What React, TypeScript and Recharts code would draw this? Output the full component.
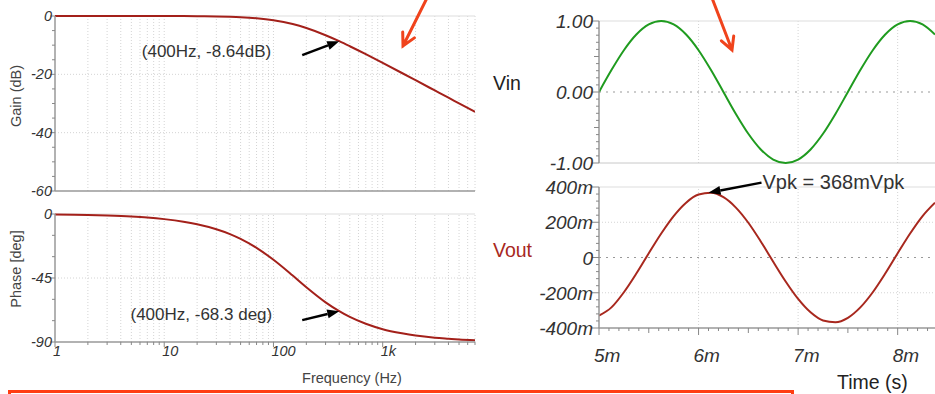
import { LineChart, Line, XAxis, YAxis, ReferenceLine, ReferenceDot } from "recharts";

// Bode data
const freqHz = [1, 2, 3, 5, 7, 10, 15, 20, 30, 40, 50, 70, 100, 150, 200, 300, 400, 500, 700, 1000, 1500, 2000, 3000, 4000, 5000, 7000];
const gainDb = [0, 0, 0, -0.01, -0.01, -0.02, -0.04, -0.07, -0.15, -0.27, -0.41, -0.77, -1.45, -2.76, -4.12, -6.59, -8.64, -10.37, -13.09, -16.08, -19.54, -22.02, -25.53, -28.02, -29.96, -32.88];
const phaseDeg = [-0.4, -0.7, -1.1, -1.8, -2.5, -3.6, -5.4, -7.2, -10.7, -14.1, -17.5, -23.8, -32.2, -43.3, -51.5, -62.1, -68.3, -72.4, -77.2, -81.0, -83.9, -85.5, -87.0, -87.7, -88.2, -88.7];

// transient data (ms, V)
const timeMs = [5, 5.125, 5.25, 5.375, 5.5, 5.625, 5.75, 5.875, 6, 6.125, 6.25, 6.375, 6.5, 6.625, 6.75, 6.875, 7, 7.125, 7.25, 7.375, 7.5, 7.625, 7.75, 7.875, 8, 8.125, 8.25, 8.375];
const vinV = [0, 0.309, 0.588, 0.809, 0.951, 1, 0.951, 0.809, 0.588, 0.309, 0, -0.309, -0.588, -0.809, -0.951, -1, -0.951, -0.809, -0.588, -0.309, 0, 0.309, 0.588, 0.809, 0.951, 1, 0.951, 0.809];
const voutV = [-0.33, -0.283, -0.197, -0.091, 0.024, 0.136, 0.235, 0.311, 0.357, 0.367, 0.342, 0.283, 0.197, 0.091, -0.024, -0.136, -0.235, -0.311, -0.357, -0.367, -0.342, -0.283, -0.197, -0.091, 0.024, 0.136, 0.235, 0.311];

// ticks
const freqTicks = [1, 2, 3, 4, 5, 6, 7, 8, 9, 10, 20, 30, 40, 50, 60, 70, 80, 90, 100, 200, 300, 400, 500, 600, 700, 800, 900, 1000, 2000, 3000, 4000, 5000, 6000, 7000];
const freqLabels: Record<number, string> = { 1: "1", 10: "10", 100: "100", 1000: "1k" };
const gainTicks = [0, -5, -10, -15, -20, -25, -30, -35, -40, -45, -50, -55, -60];
const gainLabels = [0, -20, -40, -60];
const phaseTicks = [0, -15, -30, -45, -60, -75, -90];
const phaseLabels = [0, -45, -90];
const vinTicks = Array.from({ length: 21 }, (_, i) => Math.round((1 - i * 0.1) * 10) / 10);
const vinLabels: Record<string, string> = { "1": "1.00", "0": "0.00", "-1": "-1.00" };
const voutTicks = Array.from({ length: 21 }, (_, i) => Math.round((0.4 - i * 0.04) * 100) / 100);
const voutLabels: Record<string, string> = { "0.4": "400m", "0.2": "200m", "0": "0", "-0.2": "-200m", "-0.4": "-400m" };
const timeTicks = Array.from({ length: 34 }, (_, i) => Math.round((5 + i * 0.1) * 10) / 10);
const timeLabels: Record<string, string> = { "5": "5m", "6": "6m", "7": "7m", "8": "8m" };

const bodeData = freqHz.map((f, i) => ({ f, gain: gainDb[i], phase: phaseDeg[i] }));
const tranData = timeMs.map((t, i) => ({ t, vin: vinV[i], vout: voutV[i] }));

const font = "'Liberation Sans', Arial, sans-serif";
const axisGray = "#999";
const tickGray = "#888";
const textCol = "#333";
const bodeRed = "#a3201a";
const voutRed = "#a8281e";
const vinGreen = "#1f9b1f";
const arrowRed = "#f0431c";

const leftYTick = (labels: number[], fontSize: number, dy: number, gap: number) => (p: any) => {
  const v = p.payload.value;
  const major = labels.includes(v);
  return (
    <g>
      <line x1={p.x} x2={p.x - (major ? 5 : 3)} y1={p.y} y2={p.y} stroke={tickGray} />
      {major && (
        <text x={p.x - gap} y={p.y + dy} textAnchor="end" fontSize={fontSize} fontStyle="italic" fontFamily={font} fill={textCol}>
          {v}
        </text>
      )}
    </g>
  );
};

const rightYTick = (labels: Record<string, string>, mid: (v: number) => boolean) => (p: any) => {
  const v = p.payload.value;
  const lab = labels[String(v)];
  const len = lab ? 7 : mid(v) ? 5 : 3;
  return (
    <g>
      <line x1={p.x} x2={p.x - len} y1={p.y} y2={p.y} stroke={tickGray} />
      {lab && (
        <text x={p.x - 6} y={p.y + 7} textAnchor="end" fontSize={19} fontStyle="italic" fontFamily={font} fill={textCol}>
          {lab}
        </text>
      )}
    </g>
  );
};

const FreqTick = (p: any) => {
  const v = p.payload.value;
  const lab = freqLabels[v];
  return (
    <g>
      <line x1={p.x} x2={p.x} y1={p.y} y2={p.y + (lab ? 5 : 3)} stroke={tickGray} />
      {lab && (
        <text x={p.x - 2} y={p.y + 14} fontSize={14.5} fontStyle="italic" fontFamily={font} fill={textCol}>
          {lab}
        </text>
      )}
    </g>
  );
};

const TimeTick = (p: any) => {
  const v = p.payload.value;
  const lab = timeLabels[String(v)];
  const mid = Math.abs(v * 2 - Math.round(v * 2)) < 1e-6;
  return (
    <g>
      <line x1={p.x} x2={p.x} y1={p.y} y2={p.y + (lab ? 7 : mid ? 5 : 3)} stroke={tickGray} />
      {lab && (
        <text x={p.x - 5} y={p.y + 34} fontSize={19} fontStyle="italic" fontFamily={font} fill={textCol}>
          {lab}
        </text>
      )}
    </g>
  );
};

// black callout arrow pointing at a data point
const callout = (tail: [number, number], text: string, textAt: [number, number], anchor: "start" | "end", fontSize: number) => (p: any) => {
  const { cx, cy } = p;
  const tx = cx + tail[0];
  const ty = cy + tail[1];
  const len = Math.hypot(tail[0], tail[1]);
  const ux = -tail[0] / len;
  const uy = -tail[1] / len;
  const L = 12;
  const w = 4.5;
  const bx = cx - ux * L;
  const by = cy - uy * L;
  return (
    <g>
      <line x1={tx} y1={ty} x2={bx} y2={by} stroke="#000" strokeWidth={2.5} />
      <polygon points={`${cx},${cy} ${bx - uy * w},${by + ux * w} ${bx + uy * w},${by - ux * w}`} fill="#000" />
      <text x={cx + textAt[0]} y={cy + textAt[1]} textAnchor={anchor} fontSize={fontSize} fontFamily={font} fill={textCol}>
        {text}
      </text>
    </g>
  );
};

const dotted = { stroke: "#d4d4d4", strokeDasharray: "1 2" };

export default function App() {
  return (
    <div style={{ position: "fixed", left: 0, top: 0, width: 935, height: 394, overflow: "hidden", background: "#fff" }}>
      {/* Gain */}
      <div style={{ position: "absolute", left: 0, top: 0 }}>
        <LineChart width={480} height={206} data={bodeData} margin={{ top: 16, right: 5, bottom: 15, left: 0 }}>
          <XAxis dataKey="f" type="number" scale="log" domain={[1, 7000]} allowDataOverflow hide />
          <YAxis
            type="number"
            domain={[-60, 0]}
            ticks={gainTicks}
            interval={0}
            width={55}
            tickSize={0}
            tickMargin={0}
            tickLine={false}
            axisLine={{ stroke: axisGray, strokeWidth: 1.5 }}
            tick={leftYTick(gainLabels, 14.5, 5, 3)}
          />
          {freqTicks.slice(1).map((f) => (
            <ReferenceLine key={f} x={f} {...dotted} />
          ))}
          <ReferenceLine y={-20} {...dotted} />
          <ReferenceLine y={-40} {...dotted} />
          <ReferenceLine y={0} stroke="#ddd" />
          <ReferenceLine y={-60} stroke={axisGray} strokeWidth={1.5} />
          <Line dataKey="gain" type="monotone" stroke={bodeRed} strokeWidth={2} dot={false} isAnimationActive={false} />
          <ReferenceDot x={400} y={-8.64} r={0} shape={callout([-37, 14], "(400Hz, -8.64dB)", [-68, 16], "end", 17)} />
        </LineChart>
      </div>

      {/* Phase */}
      <div style={{ position: "absolute", left: 0, top: 200 }}>
        <LineChart width={480} height={162} data={bodeData} margin={{ top: 14, right: 5, bottom: 0, left: 0 }}>
          <XAxis
            dataKey="f"
            type="number"
            scale="log"
            domain={[1, 7000]}
            allowDataOverflow
            ticks={freqTicks}
            interval={0}
            height={20}
            tickSize={0}
            tickMargin={0}
            tickLine={false}
            axisLine={{ stroke: axisGray, strokeWidth: 1.5 }}
            tick={FreqTick}
          />
          <YAxis
            type="number"
            domain={[-90, 0]}
            ticks={phaseTicks}
            interval={0}
            width={55}
            tickSize={0}
            tickMargin={0}
            tickLine={false}
            axisLine={{ stroke: axisGray, strokeWidth: 1.5 }}
            tick={leftYTick(phaseLabels, 14.5, 5, 3)}
          />
          {freqTicks.slice(1).map((f) => (
            <ReferenceLine key={f} x={f} {...dotted} />
          ))}
          <ReferenceLine y={-45} {...dotted} />
          <ReferenceLine y={0} stroke="#ddd" />
          <Line dataKey="phase" type="monotone" stroke={bodeRed} strokeWidth={2} dot={false} isAnimationActive={false} />
          <ReferenceDot x={400} y={-68.3} r={0} shape={callout([-37, 9], "(400Hz, -68.3 deg)", [-67, 9], "end", 17)} />
        </LineChart>
      </div>

      {/* Vin */}
      <div style={{ position: "absolute", left: 480, top: 0 }}>
        <LineChart width={455} height={180} data={tranData} margin={{ top: 21, right: 0, bottom: 17, left: 0 }}>
          <XAxis dataKey="t" type="number" domain={[5, 8.375]} allowDataOverflow hide />
          <YAxis
            type="number"
            domain={[-1, 1]}
            ticks={vinTicks}
            interval={0}
            width={119}
            tickSize={0}
            tickMargin={0}
            tickLine={false}
            axisLine={{ stroke: axisGray, strokeWidth: 1.5 }}
            tick={rightYTick(vinLabels, (v) => Math.abs(Math.abs(v) - 0.5) < 1e-6)}
          />
          {[6, 7, 8].map((t) => (
            <ReferenceLine key={t} x={t} {...dotted} />
          ))}
          <ReferenceLine y={1} stroke="#ddd" />
          <ReferenceLine y={-1} stroke="#c8c8c8" />
          <ReferenceLine y={0} stroke="#999" strokeDasharray="2 5" />
          <Line dataKey="vin" type="monotone" stroke={vinGreen} strokeWidth={2} dot={false} isAnimationActive={false} />
        </LineChart>
      </div>

      {/* Vout */}
      <div style={{ position: "absolute", left: 480, top: 170 }}>
        <LineChart width={455} height={198} data={tranData} margin={{ top: 17, right: 0, bottom: 0, left: 0 }}>
          <XAxis
            dataKey="t"
            type="number"
            domain={[5, 8.375]}
            allowDataOverflow
            ticks={timeTicks}
            interval={0}
            height={40}
            tickSize={0}
            tickMargin={0}
            tickLine={false}
            axisLine={{ stroke: axisGray, strokeWidth: 1.5 }}
            tick={TimeTick}
          />
          <YAxis
            type="number"
            domain={[-0.4, 0.4]}
            ticks={voutTicks}
            interval={0}
            width={119}
            tickSize={0}
            tickMargin={0}
            tickLine={false}
            axisLine={{ stroke: axisGray, strokeWidth: 1.5 }}
            tick={rightYTick(voutLabels, () => false)}
          />
          {[6, 7, 8].map((t) => (
            <ReferenceLine key={t} x={t} {...dotted} />
          ))}
          <ReferenceLine y={0.4} stroke="#ddd" />
          <ReferenceLine y={0.2} {...dotted} />
          <ReferenceLine y={-0.2} {...dotted} />
          <ReferenceLine y={0} stroke="#999" strokeDasharray="2 5" />
          <Line dataKey="vout" type="monotone" stroke={voutRed} strokeWidth={2} dot={false} isAnimationActive={false} />
          <ReferenceDot x={6.1} y={0.368} r={0} shape={callout([53, -10], "Vpk = 368mVpk", [54, -4], "start", 20)} />
        </LineChart>
      </div>

      {/* titles, red marks */}
      <svg width={935} height={394} style={{ position: "absolute", left: 0, top: 0, pointerEvents: "none" }} fontFamily={font}>
        <text transform="translate(21,96) rotate(-90)" textAnchor="middle" fontSize={14.5} fill="#444">Gain (dB)</text>
        <text transform="translate(21,269) rotate(-90)" textAnchor="middle" fontSize={14.5} fill="#444">Phase [deg]</text>
        <text x={352} y={383} textAnchor="middle" fontSize={14.5} fill="#444">Frequency (Hz)</text>
        <text x={493} y={90} fontSize={19.5} fill="#222">Vin</text>
        <text x={493} y={257} fontSize={19.5} fill={voutRed}>Vout</text>
        <text x={837} y={389} fontSize={19.5} fill="#222">Time (s)</text>
        <g stroke={arrowRed} strokeWidth={3} fill="none" strokeLinecap="round">
          <path d="M427,-2 L403,46 M414.4,37.9 L403,46 L402.7,32" />
          <path d="M712,-2 L732,50 M733.7,36.1 L732,50 L721.4,40.8" />
        </g>
        <rect x={9.5} y={391.5} width={783} height={20} stroke="#ff3d12" strokeWidth={3} fill="none" />
      </svg>
    </div>
  );
}
